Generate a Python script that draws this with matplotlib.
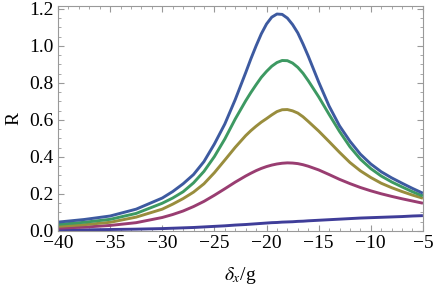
import matplotlib
matplotlib.use("Agg")
import matplotlib.pyplot as plt
from matplotlib.ticker import MultipleLocator, FuncFormatter

plt.rcParams['font.family'] = ['Liberation Serif', 'DejaVu Serif']
plt.rcParams['mathtext.fontset'] = 'stix'

# detuning delta_x / g
x = [-40, -37.5, -35, -32.5, -30, -29, -28, -27, -26, -25, -24, -23, -22, -21.5, -21, -20.5,
     -20, -19.5, -19, -18.5, -18, -17.5, -17, -16.5, -16, -15, -14, -13, -12, -11, -10, -9,
     -8, -7, -6, -5]

r1 = [0.005, 0.006, 0.008, 0.010, 0.013, 0.015, 0.017, 0.019, 0.022, 0.025, 0.028, 0.032, 0.035, 0.037, 0.039, 0.041,
      0.043, 0.045, 0.046, 0.048, 0.049, 0.050, 0.052, 0.053, 0.055, 0.058, 0.061, 0.064, 0.067, 0.070, 0.072, 0.074,
      0.076, 0.078, 0.081, 0.083]
r2 = [0.015, 0.021, 0.030, 0.045, 0.073, 0.089, 0.108, 0.132, 0.160, 0.193, 0.228, 0.264, 0.297, 0.312, 0.326, 0.338,
      0.348, 0.356, 0.362, 0.366, 0.368, 0.367, 0.364, 0.358, 0.350, 0.330, 0.305, 0.279, 0.256, 0.235, 0.217, 0.201,
      0.187, 0.174, 0.162, 0.150]
r3 = [0.025, 0.034, 0.047, 0.075, 0.118, 0.145, 0.175, 0.210, 0.255, 0.315, 0.383, 0.452, 0.515, 0.542, 0.566, 0.588,
      0.607, 0.627, 0.645, 0.655, 0.656, 0.649, 0.637, 0.617, 0.592, 0.540, 0.483, 0.425, 0.370, 0.325, 0.289, 0.258,
      0.234, 0.213, 0.194, 0.177]
r4 = [0.036, 0.047, 0.063, 0.095, 0.150, 0.178, 0.212, 0.260, 0.322, 0.402, 0.497, 0.605, 0.703, 0.748, 0.790, 0.830,
      0.862, 0.890, 0.910, 0.921, 0.920, 0.907, 0.884, 0.852, 0.812, 0.725, 0.630, 0.538, 0.455, 0.388, 0.337, 0.297,
      0.265, 0.238, 0.212, 0.189]
r5 = [0.048, 0.062, 0.081, 0.118, 0.178, 0.213, 0.255, 0.305, 0.375, 0.470, 0.578, 0.710, 0.855, 0.930, 1.000, 1.065,
      1.118, 1.155, 1.172, 1.170, 1.150, 1.115, 1.070, 1.010, 0.945, 0.805, 0.675, 0.568, 0.485, 0.415, 0.362, 0.320,
      0.287, 0.258, 0.230, 0.204]

series = [r1, r2, r3, r4, r5]
colors = ['#3f3d99', '#993d71', '#998d3d', '#3d9962', '#3d5aa0']

fig = plt.figure(figsize=(4.36, 2.89), dpi=100)
ax = fig.add_axes([0.133, 0.2007, 0.837, 0.7783])

for r, c in zip(series, colors):
    ax.plot(x, r, color=c, lw=2.1, solid_capstyle='butt', solid_joinstyle='round')

ax.set_xlim(-40, -5)
ax.set_ylim(0, 1.215)

ax.xaxis.set_major_locator(MultipleLocator(5))
ax.xaxis.set_minor_locator(MultipleLocator(1))
ax.yaxis.set_major_locator(MultipleLocator(0.2))
ax.yaxis.set_minor_locator(MultipleLocator(0.05))

def fmt_x(v, pos):
    return '\u2212' + '%d' % abs(v) if v < 0 else '%d' % v

ax.xaxis.set_major_formatter(FuncFormatter(fmt_x))
ax.yaxis.set_major_formatter(FuncFormatter(lambda v, p: '%.1f' % v))

ax.tick_params(which='both', direction='in', top=True, right=True,
               color='#999999', labelsize=14, pad=3)
ax.tick_params(which='major', length=4, width=0.8)
ax.tick_params(which='minor', length=2, width=0.6)
for s in ax.spines.values():
    s.set_color('#999999')
    s.set_linewidth(0.8)

ax.set_xlabel(r'$\delta_x$/g', fontsize=14, labelpad=9)
ax.set_ylabel('R', fontsize=14, labelpad=5)

fig.savefig('out.png', dpi=100)
